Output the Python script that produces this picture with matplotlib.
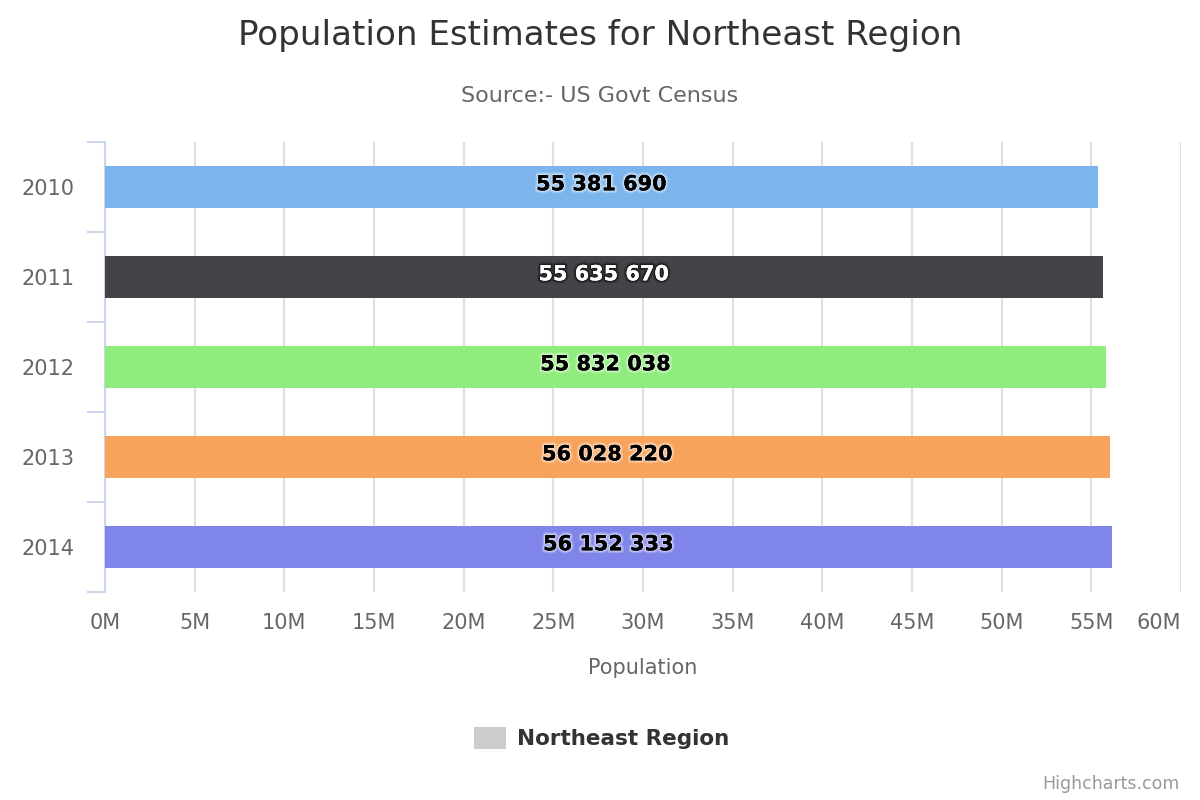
import matplotlib
matplotlib.use("Agg")
import matplotlib.pyplot as plt
import matplotlib.patheffects as pe
from matplotlib.patches import Rectangle

years = ["2010", "2011", "2012", "2013", "2014"]
population = [55381690, 55635670, 55832038, 56028220, 56152333]
bar_colors = ["#7cb5ec", "#434348", "#90ed7d", "#f7a35c", "#8085e9"]
label_colors = ["#000000", "#ffffff", "#000000", "#000000", "#000000"]
x_ticks = [0, 5e6, 10e6, 15e6, 20e6, 25e6, 30e6, 35e6, 40e6, 45e6, 50e6, 55e6, 60e6]
x_tick_labels = ["0M", "5M", "10M", "15M", "20M", "25M", "30M", "35M", "40M", "45M", "50M", "55M", "60M"]

plt.rcParams['font.family'] = ['DejaVu Sans']

fig = plt.figure(figsize=(12, 8), dpi=100)
ax = fig.add_axes([105/1200, 1 - 592/800, (1181-105)/1200, (592-142)/800])

ypos = list(range(len(years)))
ax.barh(ypos, population, height=0.467, color=bar_colors, zorder=3)
ax.set_ylim(len(years) - 0.5, -0.5)
ax.set_xlim(0, 60e6)

# grid
ax.set_xticks(x_ticks)
ax.grid(axis='x', color='#e0e0e0', linewidth=1.6, zorder=0)
ax.set_axisbelow(True)
ax.set_xticklabels(x_tick_labels, fontsize=15, color='#666666')
lbls = ax.get_xticklabels()
lbls[-1].set_horizontalalignment('right')
ax.tick_params(axis='x', length=0, pad=15)

ax.set_yticks(ypos)
ax.set_yticklabels(years, fontsize=15, color='#666666')
ax.tick_params(axis='y', which='major', length=0, pad=22)
ax.set_yticks([i - 0.5 for i in range(len(years) + 1)], minor=True)
ax.tick_params(axis='y', which='minor', length=13, width=1.5, color='#ccd6eb', direction='out')

for s in ['top', 'right', 'bottom']:
    ax.spines[s].set_visible(False)
ax.spines['left'].set_color('#ccd6eb')
ax.spines['left'].set_linewidth(1.5)

for i, v in enumerate(population):
    txt = f"{v:,}".replace(",", " ")
    fg = label_colors[i]
    outline = 'white' if fg == '#000000' else 'black'
    ax.text(v / 2, i - 0.03, txt, ha='center', va='center', fontsize=15, fontweight='bold',
            color=fg, zorder=5,
            path_effects=[pe.withStroke(linewidth=4, foreground=outline, alpha=0.25),
                          pe.withStroke(linewidth=2, foreground=outline, alpha=0.4),
                          pe.Normal()])

ax.set_xlabel("Population", fontsize=15, color='#666666', labelpad=18)

fig.text(0.5, 1 - 35/800, "Population Estimates for Northeast Region", ha='center', va='center',
         fontsize=24.6, color='#333333')
fig.text(0.5, 1 - 96/800, "Source:- US Govt Census", ha='center', va='center',
         fontsize=16, color='#666666')

# legend
fig.patches.append(Rectangle((474/1200, 1 - 749/800), 32/1200, 22/800, transform=fig.transFigure,
                             facecolor='#cccccc', edgecolor='none'))
fig.text(517/1200, 1 - 739/800, "Northeast Region", ha='left', va='center', fontsize=15.5,
         fontweight='bold', color='#333333')

fig.text(1180/1200, 1 - 784/800, "Highcharts.com", ha='right', va='center', fontsize=12.5,
         color='#999999')

fig.savefig("out.png", dpi=100, facecolor='white')
